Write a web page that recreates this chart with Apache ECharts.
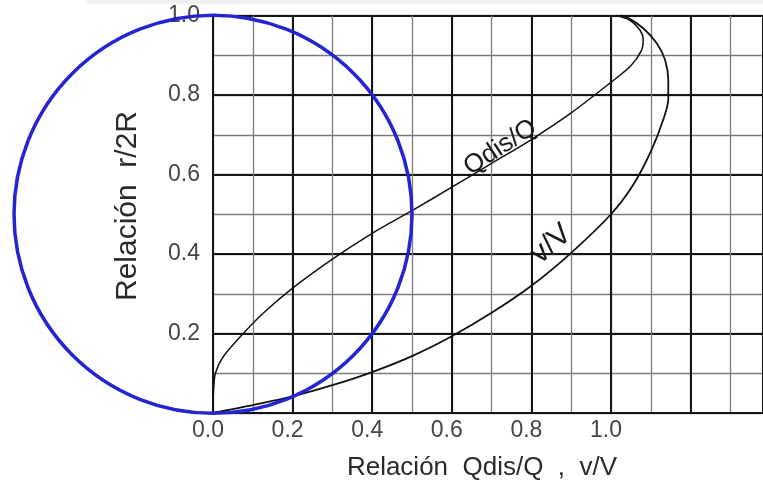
<!DOCTYPE html>
<html><head><meta charset="utf-8">
<script src="https://cdn.jsdelivr.net/npm/echarts@6/dist/echarts.min.js"></script>
<style>html,body{margin:0;padding:0;background:#fff}#c{width:763px;height:489px}</style>
</head><body><div id="c"></div>
<script>
// ---- data ----
const qdisX = [0, 0.001, 0.006, 0.026, 0.076, 0.126, 0.2, 0.3, 0.4, 0.5, 0.6, 0.7, 0.8, 0.9, 1.0, 1.051, 1.077, 1.081, 1.073, 1.048, 1.014];
const qdisY = [0, 0.05, 0.1, 0.142, 0.2, 0.251, 0.314, 0.387, 0.452, 0.509, 0.568, 0.628, 0.688, 0.755, 0.832, 0.875, 0.913, 0.94, 0.963, 0.988, 1.0];
const velX = [0, 0.05, 0.1, 0.2, 0.3, 0.4, 0.5, 0.6, 0.7, 0.8, 0.9, 1.0, 1.056, 1.102, 1.131, 1.144, 1.144, 1.136, 1.115, 1.081, 1.04, 1.023];
const velY = [0, 0.01, 0.02, 0.042, 0.07, 0.103, 0.143, 0.193, 0.252, 0.32, 0.403, 0.5, 0.574, 0.662, 0.737, 0.79, 0.838, 0.888, 0.93, 0.968, 0.996, 1.0];
const circleCenter = [0, 0.5];
const circleRadius = 0.5;
const xTickLabels = ['0.0', '0.2', '0.4', '0.6', '0.8', '1.0'];
const yTickLabels = ['0.2', '0.4', '0.6', '0.8', '1.0'];
const curveLabels = ['Qdis/Q', 'v/V'];
const curveLabelAnchors = [[0.722, 0.668], [0.85, 0.425]];
const xTitle = 'Relación  Qdis/Q  ,  v/V';
const yTitle = 'Relación  r/2R';

// ---- chart ----
const FONT = '"Liberation Sans", Arial, sans-serif';
const chart = echarts.init(document.getElementById('c'), null, {renderer: 'canvas'});
const zip = (a, b) => a.map((v, i) => [v, b[i]]);
const fmt = list => v => {
  const t = Math.round(v * 10);
  if (Math.abs(v * 10 - t) > 1e-6) return '';
  const s = (t / 10).toFixed(1);
  return list.includes(s) ? s : '';
};
const XMAX = 1.382;
const labelRot = [33, 41];
const labelSize = [26, 30];

const minorLine = {show: true, lineStyle: {color: '#7c7c7c', width: 1.3}};
const majorLine = {show: true, lineStyle: {color: '#151515', width: 2}};

const option = {
  animation: false,
  backgroundColor: '#fff',
  grid: {left: 213, top: 15.5, right: 0, bottom: 76, containLabel: false},
  xAxis: [
    {type: 'value', min: 0, max: XMAX, interval: 0.1, position: 'bottom',
     axisLine: {show: false}, axisTick: {show: false}, axisLabel: {show: false}, splitLine: minorLine},
    {type: 'value', min: 0, max: XMAX, interval: 0.2, position: 'bottom',
     axisLine: {show: true, onZero: false, lineStyle: {color: '#151515', width: 2}},
     axisTick: {show: false},
     axisLabel: {show: true, formatter: fmt(xTickLabels), color: '#444', fontSize: 23, fontFamily: FONT,
                 margin: 6, padding: [0, 10, 0, 0], showMaxLabel: false},
     splitLine: majorLine}
  ],
  yAxis: [
    {type: 'value', min: 0, max: 1, interval: 0.1, position: 'left',
     axisLine: {show: false}, axisTick: {show: false}, axisLabel: {show: false}, splitLine: minorLine},
    {type: 'value', min: 0, max: 1, interval: 0.2, position: 'left',
     axisLine: {show: false}, axisTick: {show: false},
     axisLabel: {show: true, formatter: fmt(yTickLabels), color: '#444', fontSize: 23, fontFamily: FONT,
                 margin: 13, padding: [8, 0, 0, 0]},
     splitLine: majorLine}
  ],
  graphic: [
    {type: 'rect', shape: {x: 87, y: 0, width: 676, height: 4}, style: {fill: '#f0f0f0'}, z: -1},
    {type: 'text', x: 482, y: 468, style: {text: xTitle, font: '26px ' + FONT, fill: '#2a2a2a',
      align: 'center', verticalAlign: 'middle', textAlign: 'center', textVerticalAlign: 'middle'}},
    {type: 'text', x: 128, y: 206, rotation: Math.PI / 2, style: {text: yTitle, font: '30px ' + FONT, fill: '#2a2a2a',
      align: 'center', verticalAlign: 'middle', textAlign: 'center', textVerticalAlign: 'middle'}}
  ],
  series: [
    {type: 'line', xAxisIndex: 1, yAxisIndex: 1, data: zip(qdisX, qdisY), showSymbol: false, symbol: 'none',
     smooth: 0.3, lineStyle: {color: '#111', width: 1.5}, z: 3, silent: true},
    {type: 'line', xAxisIndex: 1, yAxisIndex: 1, data: zip(velX, velY), showSymbol: false, symbol: 'none',
     smooth: 0.3, lineStyle: {color: '#111', width: 1.8}, z: 3, silent: true},
    {type: 'custom', xAxisIndex: 1, yAxisIndex: 1, clip: false, z: 5, silent: true,
     data: [[circleCenter[0], circleCenter[1], circleRadius]],
     renderItem: (params, api) => {
       const c = api.coord([api.value(0), api.value(1)]);
       const r = api.size([api.value(2), 0])[0];
       return {type: 'circle', shape: {cx: c[0], cy: c[1], r: r},
               style: {fill: 'none', stroke: '#2424d2', lineWidth: 3.5}};
     }},
    {type: 'custom', xAxisIndex: 1, yAxisIndex: 1, clip: false, z: 6, silent: true,
     data: curveLabelAnchors.map((p, i) => [p[0], p[1], i]),
     renderItem: (params, api) => {
       const i = api.value(2);
       const c = api.coord([api.value(0), api.value(1)]);
       return {type: 'text', x: c[0], y: c[1], rotation: labelRot[i] * Math.PI / 180,
               style: {text: curveLabels[i], font: labelSize[i] + 'px ' + FONT, fill: '#1a1a1a',
                       align: 'center', verticalAlign: 'middle'}};
     }}
  ]
};
chart.setOption(option);
</script>
</body></html>
